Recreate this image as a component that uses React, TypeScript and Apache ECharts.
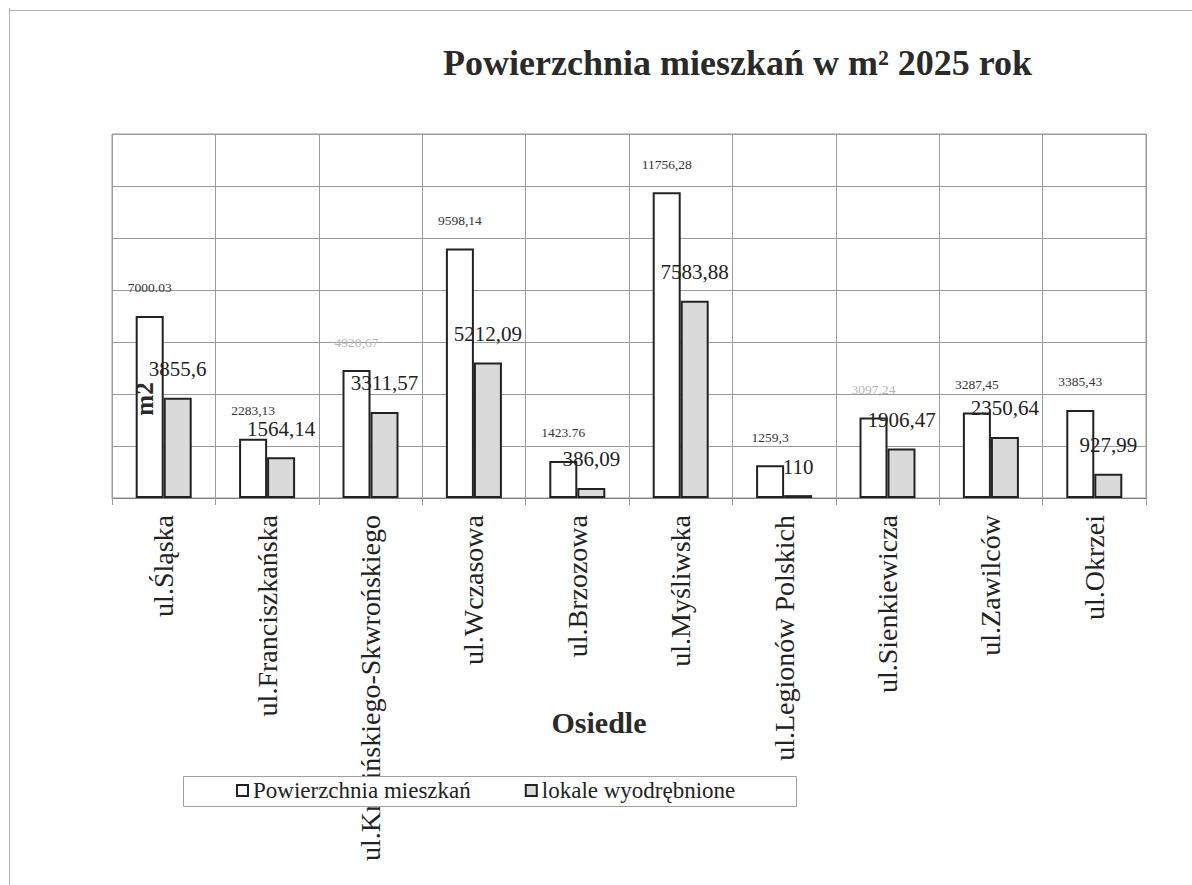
import React, { useEffect, useRef } from 'react';
import * as echarts from 'echarts';

const categories = [
  'ul.Śląska',
  'ul.Franciszkańska',
  'ul.Krasińskiego-Skwrońskiego',
  'ul.Wczasowa',
  'ul.Brzozowa',
  'ul.Myśliwska',
  'ul.Legionów Polskich',
  'ul.Sienkiewicza',
  'ul.Zawilców',
  'ul.Okrzei',
];
const seriesNames = ['Powierzchnia mieszkań', 'lokale wyodrębnione'];
const areaValues = [7000.03, 2283.13, 4920.67, 9598.14, 1423.76, 11756.28, 1259.3, 3097.24, 3287.45, 3385.43];
const separateValues = [3855.6, 1564.14, 3311.57, 5212.09, 386.09, 7583.88, 110, 1906.47, 2350.64, 927.99];
const areaLabels = ['7000.03', '2283,13', '4920,67', '9598,14', '1423.76', '11756,28', '1259,3', '3097,24', '3287,45', '3385,43'];
const separateLabels = ['3855,6', '1564,14', '3311,57', '5212,09', '386,09', '7583,88', '110', '1906,47', '2350,64', '927,99'];
const fadedAreaLabels = [2, 7];
const yMin = 0;
const yMax = 14000;
const yInterval = 2000;
const titleText = 'Powierzchnia mieszkań w m² 2025 rok';
const xAxisTitle = 'Osiedle';
const yAxisTitle = 'm2';

const FONT = '"Liberation Serif", "Times New Roman", serif';

export default function App() {
  const ref = useRef<HTMLDivElement>(null);
  useEffect(() => {
    if (!ref.current) return;
    const chart = echarts.init(ref.current, undefined, { renderer: 'svg' });
    const option: any = {
      animation: false,
      backgroundColor: '#ffffff',
      textStyle: { fontFamily: FONT },
      title: {
        text: titleText,
        left: 443,
        top: 45,
        padding: 0,
        textStyle: { fontFamily: FONT, fontSize: 36, fontWeight: 'bold', color: '#2a2a2a' },
      },
      legend: {
        left: 236,
        top: 779,
        padding: 0,
        itemGap: 54,
        itemWidth: 11,
        itemHeight: 11,
        icon: 'rect',
        z: 60,
        zlevel: 0,
        textStyle: { fontFamily: FONT, fontSize: 23, color: '#222', padding: [2, 0, 0, 0] },
        data: seriesNames,
      },
      grid: {
        left: 112,
        top: 134,
        width: 1034,
        height: 364,
        show: true,
        borderColor: '#9a9a9a',
        borderWidth: 1,
      },
      xAxis: {
        type: 'category',
        data: categories,
        axisLine: { lineStyle: { color: '#808080', width: 1 } },
        axisTick: { show: true, length: 7, lineStyle: { color: '#9a9a9a' } },
        splitLine: { show: true, lineStyle: { color: '#9a9a9a', width: 1 } },
        axisLabel: {
          rotate: 90,
          margin: 17,
          interval: 0,
          fontFamily: FONT,
          fontSize: 28,
          color: '#222',
        },
      },
      yAxis: {
        type: 'value',
        min: yMin,
        max: yMax,
        interval: yInterval,
        axisLine: { show: false },
        axisTick: { show: false },
        axisLabel: { show: false },
        splitLine: { show: true, lineStyle: { color: '#9a9a9a', width: 1 } },
      },
      series: [
        {
          name: seriesNames[0],
          type: 'bar',
          barWidth: 28,
          barGap: '0%',
          itemStyle: { color: '#ffffff', borderColor: '#222', borderWidth: 2 },
          data: areaValues.map((v, i) => ({
            value: v,
            label: fadedAreaLabels.includes(i) ? { color: '#b5b5b5' } : undefined,
          })),
          label: {
            show: true,
            position: 'top',
            distance: 21,
            fontFamily: FONT,
            fontSize: 13.5,
            color: '#333',
            formatter: (p: any) => areaLabels[p.dataIndex],
          },
        },
        {
          name: seriesNames[1],
          type: 'bar',
          barWidth: 28,
          barGap: '0%',
          itemStyle: { color: '#dadada', borderColor: '#222', borderWidth: 2 },
          data: separateValues,
          label: {
            show: true,
            position: 'top',
            distance: 18,
            fontFamily: FONT,
            fontSize: 21,
            color: '#222',
            formatter: (p: any) => separateLabels[p.dataIndex],
          },
        },
      ],
      graphic: [
        {
          type: 'line',
          shape: { x1: 9.5, y1: 8, x2: 9.5, y2: 885 },
          style: { stroke: '#b0b0b0', lineWidth: 1 },
          silent: true,
        },
        {
          type: 'line',
          shape: { x1: 9, y1: 10.5, x2: 1192, y2: 10.5 },
          style: { stroke: '#b0b0b0', lineWidth: 1 },
          silent: true,
        },
        {
          type: 'rect',
          shape: { x: 183.5, y: 776.5, width: 613, height: 30 },
          style: { fill: '#ffffff', stroke: '#a0a0a0', lineWidth: 1 },
          silent: true,
          z: 50,
        },
        {
          type: 'text',
          x: 599,
          y: 722,
          style: {
            text: xAxisTitle,
            fontFamily: FONT,
            fontSize: 30,
            fontWeight: 'bold',
            fill: '#2a2a2a',
            textAlign: 'center',
            textVerticalAlign: 'middle',
          },
        },
        {
          type: 'text',
          x: 144,
          y: 399,
          rotation: Math.PI / 2,
          style: {
            text: yAxisTitle,
            fontFamily: FONT,
            fontSize: 25,
            fontWeight: 'bold',
            fill: '#2a2a2a',
            textAlign: 'center',
            textVerticalAlign: 'middle',
          },
          z: 100,
        },
      ],
    };
    chart.setOption(option);
    return () => chart.dispose();
  }, []);
  return (
    <div
      ref={ref}
      style={{ position: 'fixed', left: 0, top: 0, width: 1192, height: 885, background: '#fff' }}
    />
  );
}
